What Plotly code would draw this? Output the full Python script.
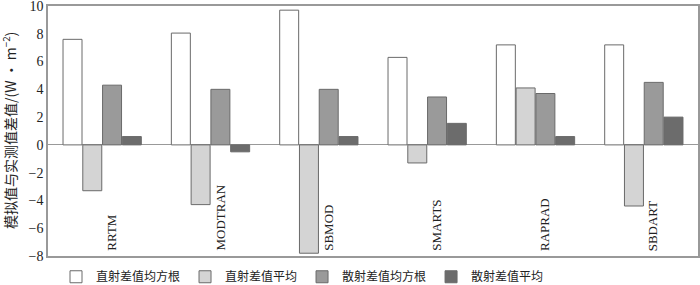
import plotly.graph_objects as go

categories = ["RRTM", "MODTRAN", "SBMOD", "SMARTS", "RAPRAD", "SBDART"]
series_names = ["直射差值均方根", "直射差值平均", "散射差值均方根", "散射差值平均"]
direct_rmse = [7.6, 8.05, 9.7, 6.3, 7.2, 7.2]
direct_mean = [-3.3, -4.3, -7.8, -1.3, 4.1, -4.4]
diffuse_rmse = [4.3, 4.0, 4.0, 3.45, 3.7, 4.5]
diffuse_mean = [0.6, -0.5, 0.6, 1.55, 0.6, 2.0]
y_ticks = [-8, -6, -4, -2, 0, 2, 4, 6, 8, 10]
y_tick_labels = ["−8", "−6", "−4", "−2", "0", "2", "4", "6", "8", "10"]
y_title = "模拟值与实测值差值/(W · m<sup>−2</sup>)"

colors = ["#ffffff", "#d4d4d4", "#9a9a9a", "#6c6c6c"]
values = [direct_rmse, direct_mean, diffuse_rmse, diffuse_mean]

FONT = "Liberation Serif"
CJK = "Noto Sans CJK SC"

fig = go.Figure()
for name, vals, col in zip(series_names, values, colors):
    fig.add_trace(go.Bar(
        x=categories, y=vals, name=name,
        marker=dict(color=col, line=dict(color="#6a6a6a", width=1)),
    ))

for c in categories:
    fig.add_annotation(
        x=c, y=-8, xref="x", yref="y", text=c, textangle=-90,
        showarrow=False, xanchor="center", yanchor="bottom",
        xshift=9, yshift=3, font=dict(family=FONT, size=13, color="#222"),
    )

fig.add_annotation(
    x=0, y=0.5, xref="paper", yref="paper", text=y_title, textangle=-90,
    showarrow=False, xanchor="center", yanchor="middle", xshift=-39,
    font=dict(family=CJK, size=14, color="#222"),
)

fig.update_layout(
    width=700, height=285,
    margin=dict(l=48, r=2, t=6, b=29, autoexpand=False),
    paper_bgcolor="white", plot_bgcolor="white",
    barmode="group", bargap=0.27, bargroupgap=0.04,
    font=dict(family=FONT, size=14, color="#222"),
    showlegend=True,
    legend=dict(
        orientation="h", x=0.08, xref="container", y=-0.025, yref="paper",
        xanchor="left", yanchor="top", bgcolor="rgba(0,0,0,0)",
        font=dict(family=CJK, size=12, color="#222"),
        itemwidth=30, traceorder="normal",
    ),
    xaxis=dict(
        showticklabels=False, ticks="", showgrid=False, automargin=False,
        showline=True, linecolor="#999", linewidth=1.5, mirror=True,
    ),
    yaxis=dict(
        range=[-8, 10], tickvals=y_ticks, ticktext=y_tick_labels,
        ticks="", showgrid=False, zeroline=True, zerolinecolor="#999", zerolinewidth=1,
        showline=True, linecolor="#999", linewidth=1.5, mirror=True,
        automargin=False, ticklabeloverflow="allow",
        tickfont=dict(family=FONT, size=14, color="#222"),
    ),
)

fig.write_html(
    "out.html",
    config={"displayModeBar": False},
    post_script="document.body.style.margin='0';document.body.style.padding='0';",
)
